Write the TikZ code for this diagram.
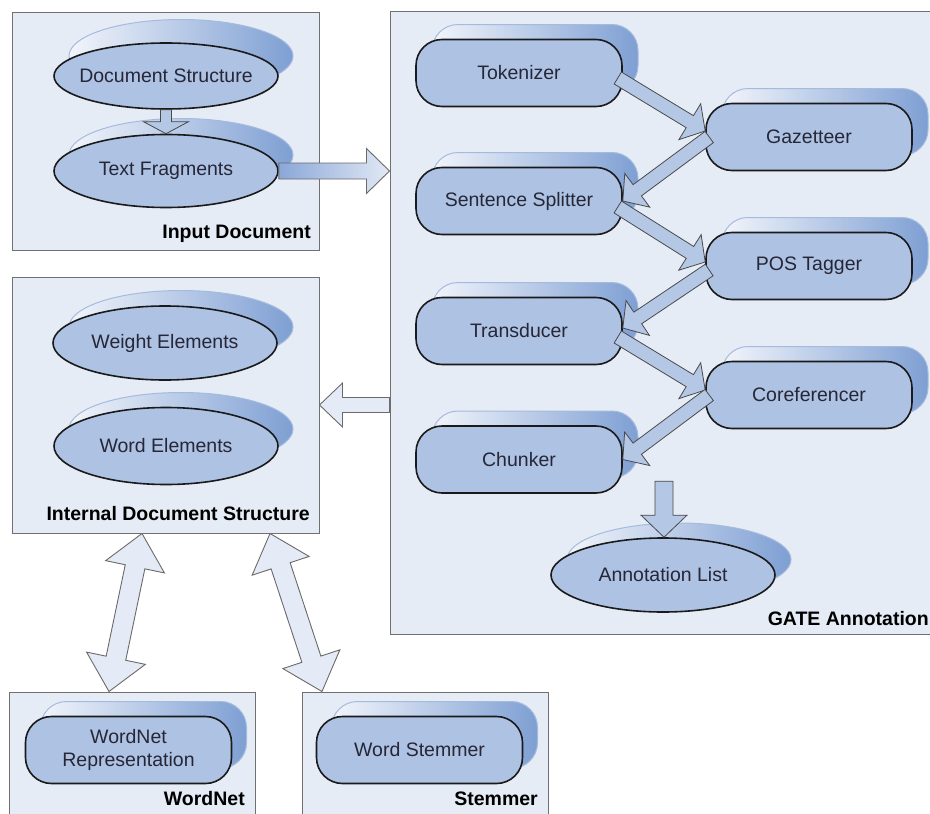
\documentclass[tikz,border=0pt]{standalone}
\usepackage{fontspec}
\setmainfont{Liberation Sans}
\usetikzlibrary{calc,shapes.geometric}
\definecolor{boxfill}{HTML}{E6ECF5}
\definecolor{boxdraw}{HTML}{707070}
\definecolor{nodefill}{HTML}{AEC3E4}
\definecolor{nodedraw}{HTML}{1A1A1A}
\definecolor{shL}{HTML}{F2F5FB}
\definecolor{shR}{HTML}{7E9FD3}
\definecolor{shD}{HTML}{A5BBDD}
\definecolor{arrfill}{HTML}{B4C8E6}
\definecolor{arrdraw}{HTML}{4A4A4A}
\definecolor{outfill}{HTML}{E4EBF6}
\definecolor{outdraw}{HTML}{6A6A6A}
\definecolor{txt}{HTML}{262636}
\definecolor{gradL}{HTML}{8AA7D8}
\definecolor{gradR}{HTML}{E2E9F5}

\newcommand{\blockarr}[6]{%
  \coordinate (bh) at ($(#2)!#5!(#1)$);
  \draw[#6] ($(#1)!#3!90:(#2)$) -- ($(bh)!#3!90:(#2)$) -- ($(bh)!#4!90:(#2)$) -- (#2)
    -- ($(bh)!#4!-90:(#2)$) -- ($(bh)!#3!-90:(#2)$) -- ($(#1)!#3!-90:(#2)$) -- cycle;
}
\newcommand{\dblarr}[6]{%
  \coordinate (bha) at ($(#1)!#5!(#2)$);
  \coordinate (bhb) at ($(#2)!#5!(#1)$);
  \draw[#6] (#1) -- ($(bha)!#4!90:(#2)$) -- ($(bha)!#3!90:(#2)$) -- ($(bhb)!#3!90:(#2)$)
    -- ($(bhb)!#4!90:(#2)$) -- (#2) -- ($(bhb)!#4!-90:(#2)$) -- ($(bhb)!#3!-90:(#2)$)
    -- ($(bha)!#3!-90:(#2)$) -- ($(bha)!#4!-90:(#2)$) -- cycle;
}

\tikzset{
  gbox/.style={rectangle, draw=boxdraw, fill=boxfill, line width=1pt, inner sep=0pt},
  proc/.style={rectangle, rounded corners=26pt, draw=nodedraw, fill=nodefill, line width=1.6pt,
    minimum width=206pt, minimum height=67pt, inner sep=0pt, text=txt,
    font=\fontsize{19.5}{24}\selectfont, align=center},
  procsh/.style={rectangle, rounded corners=26pt, draw=shD, line width=1pt, left color=shL,
    right color=shR, minimum width=206pt, minimum height=67pt, inner sep=0pt},
  ell/.style={ellipse, draw=nodedraw, fill=nodefill, line width=1.6pt, minimum width=224pt,
    minimum height=73pt, inner sep=0pt},
  ellsh/.style={ellipse, draw=shD, line width=1pt, left color=shL, right color=shR,
    minimum width=224pt, minimum height=73pt, inner sep=0pt},
  etext/.style={text=txt, font=\fontsize{19.5}{24}\selectfont, inner sep=0pt},
  lbl/.style={anchor=base east, font=\bfseries\fontsize{19.5}{24}\selectfont, text=black, inner sep=0pt},
  inarr/.style={draw=arrdraw, fill=arrfill, line width=0.8pt, line join=miter},
  outarr/.style={draw=outdraw, fill=outfill, line width=0.9pt, line join=miter},
  gradarr/.style={draw=outdraw, left color=gradL, right color=gradR, line width=0.9pt, line join=miter},
}

\begin{document}
\begin{tikzpicture}[x=1pt,y=-1pt]
\useasboundingbox (0,0) rectangle (930,814);
\clip (0,0) rectangle (930,814);
\fill[white] (0,0) rectangle (930,814);

% group boxes
\node[gbox, minimum width=307pt, minimum height=238pt] (inbox) at (165.5,131) {};
\node[gbox, minimum width=307pt, minimum height=256pt] (intbox) at (165.5,405) {};
\node[gbox, minimum width=555pt, minimum height=623pt] (gate) at (667.5,322.5) {};
\node[gbox, minimum width=246pt, minimum height=158pt] (wnbox) at (132,771) {};
\node[gbox, minimum width=246pt, minimum height=158pt] (stbox) at (425,771) {};

% group labels
\node[lbl] (inlbl) at (311,238) {Input Document};
\node[lbl] (intlbl) at (310,520) {Internal Document Structure};
\node[lbl] (gatelbl) at (929,625) {GATE Annotation};
\node[lbl] (wnlbl) at (245,805) {WordNet};
\node[lbl] (stlbl) at (538,805) {Stemmer};

% shadows
\node[ellsh] (ds-sh) at (181,56) {};
\node[ellsh] (tf-sh) at (181,155) {};
\node[ellsh] (we-sh) at (181,327) {};
\node[ellsh] (wde-sh) at (181,429) {};
\node[ellsh] (al-sh) at (679,559.5) {};
\node[procsh] (tok-sh) at (535,58) {};
\node[procsh] (ss-sh) at (535,186) {};
\node[procsh] (trans-sh) at (535,316) {};
\node[procsh] (chunk-sh) at (535,444.5) {};
\node[procsh] (gaz-sh) at (825,122) {};
\node[procsh] (pos-sh) at (825,251) {};
\node[procsh] (coref-sh) at (825,380) {};
\node[procsh] (wnrep-sh) at (143.5,735) {};
\node[procsh] (stem-sh) at (434.5,735) {};

% ellipses
\node[ell, minimum height=66pt] (ds) at (166,76) {};
\node[etext] (ds-t) at (ds) {Document Structure};
\node[ell] (tf) at (166,171) {};
\node[etext] (tf-t) at (tf) {Text Fragments};
\node[ell, minimum height=74pt] (we) at (165,343) {};
\node[etext] (we-t) at (we) {Weight Elements};
\node[ell, minimum height=77pt] (wde) at (166,446) {};
\node[etext] (wde-t) at (wde) {Word Elements};
\node[ell, minimum height=74pt] (al) at (663,575) {};
\node[etext] (al-t) at (al) {Annotation List};

% process boxes
\node[proc] (tok) at (519,73) {Tokenizer};
\node[proc] (ss) at (519,201) {Sentence Splitter};
\node[proc] (trans) at (519,331) {Transducer};
\node[proc] (chunk) at (519,459.5) {Chunker};
\node[proc] (gaz) at (809,137) {Gazetteer};
\node[proc] (pos) at (809,266) {POS Tagger};
\node[proc] (coref) at (809,395) {Coreferencer};
\node[proc] (wnrep) at (128.5,750) {WordNet\\[-1pt]Representation};
\node[proc] (stem) at (419.5,750) {Word Stemmer};

% connector end points
\coordinate (a1s) at ([xshift=-5pt,yshift=-5pt]tok.east);
\coordinate (a1e) at ([yshift=6pt]gaz.west);
\coordinate (a2s) at ([xshift=4pt]gaz.west);
\coordinate (a2e) at (ss.east);
\coordinate (a3s) at ([xshift=-5pt,yshift=-6pt]ss.east);
\coordinate (a3e) at ([yshift=4pt]pos.west);
\coordinate (a4s) at ([xshift=4pt,yshift=-4pt]pos.west);
\coordinate (a4e) at ([yshift=3pt]trans.east);
\coordinate (a5s) at ([xshift=-5pt,yshift=-6pt]trans.east);
\coordinate (a5e) at ([yshift=5pt]coref.west);
\coordinate (a6s) at ([xshift=4pt]coref.west);
\coordinate (a6e) at (chunk.east);
\coordinate (tfg) at (gate.west |- tf.east);
\coordinate (g2i) at ($(gate.west)+(0,82.5)$);
\coordinate (g2ie) at (intbox.east |- g2i);
\coordinate (c2a) at ($(al.north)+(1,-56)$);
\coordinate (c2ae) at ($(al.north)+(1,0)$);
\coordinate (d1a) at ([xshift=-23.5pt]intbox.south);
\coordinate (d1b) at ([xshift=-23pt]wnbox.north);
\coordinate (d2a) at ([xshift=104.5pt]intbox.south);
\coordinate (d2b) at ([xshift=-103pt]stbox.north);

% connectors
\blockarr{ds.south}{tf.north}{5.5pt}{22.5pt}{12pt}{inarr}
\blockarr{tf.east}{tfg}{8pt}{22.5pt}{23pt}{gradarr}
\blockarr{a1s}{a1e}{7pt}{21pt}{18pt}{inarr}
\blockarr{a2s}{a2e}{7pt}{21pt}{18pt}{inarr}
\blockarr{a3s}{a3e}{7pt}{21pt}{18pt}{inarr}
\blockarr{a4s}{a4e}{7pt}{21pt}{18pt}{inarr}
\blockarr{a5s}{a5e}{7pt}{21pt}{18pt}{inarr}
\blockarr{a6s}{a6e}{7pt}{21pt}{18pt}{inarr}
\blockarr{c2a}{c2ae}{9pt}{23pt}{22pt}{inarr}
\blockarr{g2i}{g2ie}{7.5pt}{22pt}{23pt}{outarr}
\dblarr{d1a}{d1b}{10pt}{30pt}{34pt}{outarr}
\dblarr{d2a}{d2b}{10pt}{30pt}{34pt}{outarr}
\end{tikzpicture}
\end{document}
